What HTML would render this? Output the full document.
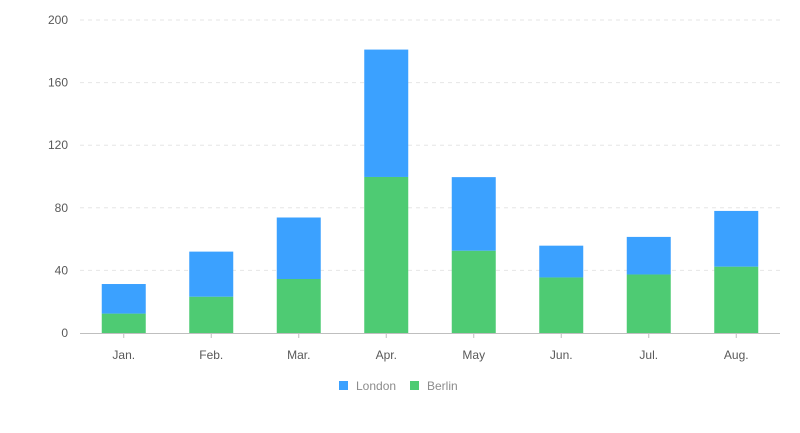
<!DOCTYPE html>
<html><head><meta charset="utf-8"><style>
body{margin:0;background:#fff;font-family:"Liberation Sans",sans-serif}
svg text{font-family:"Liberation Sans",sans-serif}
</style></head><body>
<svg id="chart" width="800" height="428" xmlns="http://www.w3.org/2000/svg"></svg>
<script>
const categories=["Jan.","Feb.","Mar.","Apr.","May","Jun.","Jul.","Aug."];
const berlin=[12.4,23.2,34.5,99.7,52.6,35.5,37.4,42.4];
const london=[18.9,28.8,39.3,81.4,47,20.3,24,35.6];
const yTicks=[0,40,80,120,160,200];
const svg=document.getElementById('chart');
const NS='http://www.w3.org/2000/svg';
const x0=80,x1=780,yBase=333,yTop=20,yMax=200;
const band=(x1-x0)/categories.length,bw=44;
const y=v=>yBase-(v/yMax)*(yBase-yTop);
const xc=i=>x0+band*(i+0.5);
function mk(t,a){const e=document.createElementNS(NS,t);for(const k in a)e.setAttribute(k,a[k]);svg.appendChild(e);return e;}
yTicks.forEach(t=>{
  if(t>0){const g=mk('line',{x1:x0,x2:x1,y1:y(t),y2:y(t),stroke:'#e6e6e6','stroke-dasharray':'4 4'});
  
  }
  const l=mk('text',{x:68,y:y(t)+4,'text-anchor':'end','font-size':12,fill:'#595959'});
  l.textContent=t;
  
  
});
const ax=mk('line',{x1:x0,x2:x1,y1:yBase+0.5,y2:yBase+0.5,stroke:'#bfbfbf'});


categories.forEach((c,i)=>{
  const tk=mk('line',{x1:xc(i),x2:xc(i),y1:yBase,y2:yBase+5,stroke:'#bfbfbf'});
  
  
  const b=mk('rect',{x:xc(i)-bw/2,y:y(berlin[i]),width:bw,height:yBase-y(berlin[i]),fill:'#4ecb73'});
  
  
  const tot=berlin[i]+london[i];
  const l=mk('rect',{x:xc(i)-bw/2,y:y(tot),width:bw,height:y(berlin[i])-y(tot),fill:'#3ba1ff'});
  
  
  const t=mk('text',{x:xc(i),y:359,'text-anchor':'middle','font-size':12,fill:'#595959'});
  t.textContent=c;
  
  
});
[["London","#3ba1ff",339],["Berlin","#4ecb73",410]].forEach(([n,col,lx])=>{
  const r=mk('rect',{x:lx,y:381,width:9,height:9,fill:col});
  
  
  const t=mk('text',{x:lx+17,y:390,'font-size':12,fill:'#8c8c8c'});
  t.textContent=n;
  
  
});
</script>
</body></html>
